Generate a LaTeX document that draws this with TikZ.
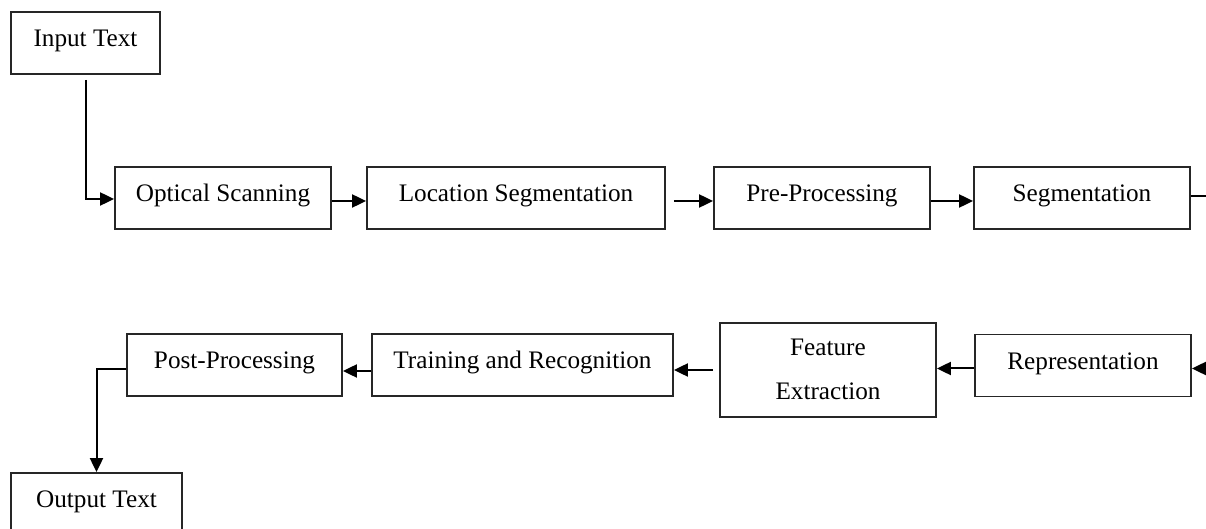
\documentclass[tikz,border=0pt]{standalone}
\usepackage{fontspec}
\setmainfont{Liberation Serif}
\usetikzlibrary{arrows.meta}

\tikzset{
    stage/.style={draw=black!85, line width=0.9pt, inner xsep=2pt, inner ysep=3pt,
        text height=14.5pt, text depth=10.5pt, align=center,
        font=\fontsize{12.6pt}{22pt}\selectfont},
    flow/.style={line width=1pt, -{Triangle[length=7pt,width=6.5pt]}}
}

\begin{document}
\begin{tikzpicture}[x=0.5pt,y=-0.5pt]
    \useasboundingbox (0,0) rectangle (1206,529);

    %first row
    \node[stage, minimum width=74.5pt] (intext) at (85.5,43) {Input Text};
    \node[stage, minimum width=108pt] (optscan) at (223,198) {Optical Scanning};
    \node[stage, minimum width=149pt] (locseg) at (516,198) {Location Segmentation};
    \node[stage, minimum width=108pt] (preproc) at (822,198) {Pre-Processing};
    \node[stage, minimum width=108pt] (segm) at (1082,198) {Segmentation};

    %second row (right to left)
    \node[stage, minimum width=108pt] (repr) at (1083,365.5) {Representation};
    \node[stage, minimum width=108pt, text height=35.5pt, text depth=5.5pt] (featext) at (828,370) {Feature\\Extraction};
    \node[stage, minimum width=150.5pt] (train) at (522.5,365) {Training and Recognition};
    \node[stage, minimum width=107.5pt] (postproc) at (234.5,365) {Post-Processing};
    \node[stage, minimum width=85.5pt] (outtext) at (96.5,504) {Output Text};

    %turn on the right, past the edge
    \coordinate (turn) at (1230,196);

    %arrows
    \draw[flow] ([yshift=-2.5pt]intext.south) |- ([yshift=-0.5pt]optscan.west);
    \draw[flow] ([yshift=-1.5pt]optscan.east) -- ([yshift=-1.5pt]locseg.west);
    \draw[flow, shorten <=4pt] ([yshift=-1.5pt]locseg.east) -- ([yshift=-1.5pt]preproc.west);
    \draw[flow] ([yshift=-1.5pt]preproc.east) -- ([yshift=-1.5pt]segm.west);
    \draw[flow] (segm.east |- turn) -- (turn) |- ([yshift=-1.5pt]repr.east);
    \draw[flow] ([yshift=-1.5pt]repr.west) -- ([yshift=-1.5pt]repr.west -| featext.east);
    \draw[flow, shorten <=3pt] (featext.west) -- (featext.west -| train.east);
    \draw[flow] ([yshift=-3pt]train.west) -- ([yshift=-3pt]postproc.east);
    \draw[flow] ([yshift=-2pt]postproc.west) -| (outtext.north);
\end{tikzpicture}
\end{document}
